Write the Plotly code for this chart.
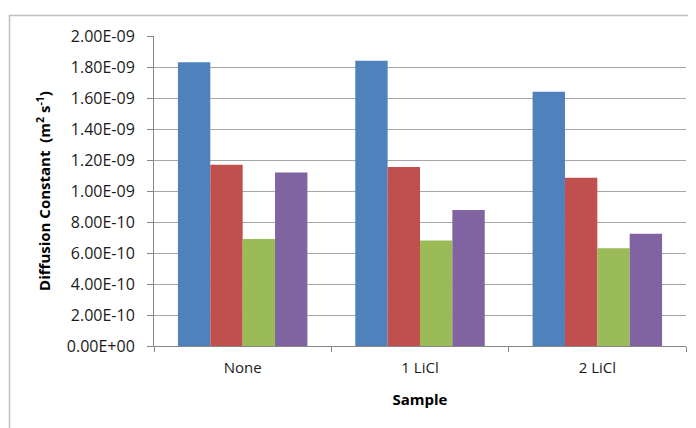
import plotly.graph_objects as go

categories = ["None", "1 LiCl", "2 LiCl"]
series_a = [1.83e-9, 1.84e-9, 1.64e-9]
series_b = [1.17e-9, 1.155e-9, 1.085e-9]
series_c = [0.69e-9, 0.68e-9, 0.63e-9]
series_d = [1.12e-9, 0.877e-9, 0.725e-9]
series_names = ["Series 1", "Series 2", "Series 3", "Series 4"]
colors = ["#4F81BD", "#C0504D", "#9BBB59", "#8064A2"]
ytick_vals = [0, 2e-10, 4e-10, 6e-10, 8e-10, 1e-9, 1.2e-9, 1.4e-9, 1.6e-9, 1.8e-9, 2e-9]
ytick_text = ["0.00E+00", "2.00E-10", "4.00E-10", "6.00E-10", "8.00E-10", "1.00E-09",
              "1.20E-09", "1.40E-09", "1.60E-09", "1.80E-09", "2.00E-09"]

# page body has an 8px default margin; shift everything accordingly
OFF = 8
W, H = 696, 428
L, R, T, B = 154 - OFF, 18, 36 - OFF, 90

fig = go.Figure()
for name, vals, col in zip(series_names, [series_a, series_b, series_c, series_d], colors):
    fig.add_trace(go.Bar(x=categories, y=vals, name=name, marker=dict(color=col, line=dict(width=0))))

font_family = "Open Sans, Noto Sans, Liberation Sans, sans-serif"
fig.update_layout(
    width=W, height=H,
    margin=dict(l=L, r=R, t=T, b=B, autoexpand=False),
    paper_bgcolor="white", plot_bgcolor="white",
    barmode="group", bargap=0.27, bargroupgap=0,
    showlegend=False,
    font=dict(family=font_family, size=15, color="#1a1a1a"),
    xaxis=dict(
        showline=True, linecolor="#868686", linewidth=1,
        ticks="outside", tickson="boundaries", ticklen=5, tickcolor="#868686",
        showgrid=False, tickfont=dict(size=15), ticklabelstandoff=8,
        title=dict(text="<b>Sample</b>", font=dict(size=15, color="#000000"), standoff=18),
    ),
    yaxis=dict(
        range=[0, 2e-9], tickvals=ytick_vals, ticktext=ytick_text,
        showline=True, linecolor="#868686", linewidth=1,
        ticks="outside", ticklen=6, tickcolor="#868686",
        showgrid=True, gridcolor="#A6A6A6", gridwidth=1,
        zeroline=False, tickfont=dict(size=16), ticklabelstandoff=9,
        title=dict(text="<b>Diffusion Constant  (m<sup>2</sup> s<sup>-1</sup>)</b>",
                   font=dict(size=15, color="#000000"), standoff=12),
    ),
)

# outer chart-area border (extends beyond right and bottom edges)
pw, ph = W - L - R, H - T - B
x0 = (9.5 - OFF - L) / pw
y1 = (H - B - (15.5 - OFF)) / ph
fig.add_shape(type="rect", xref="paper", yref="paper",
              x0=x0, x1=(W + 20 - L) / pw, y0=(-(B + 20)) / ph, y1=y1,
              line=dict(color="#BFBFBF", width=1.5), fillcolor="rgba(0,0,0,0)", layer="below")

fig.write_html("out.html")
